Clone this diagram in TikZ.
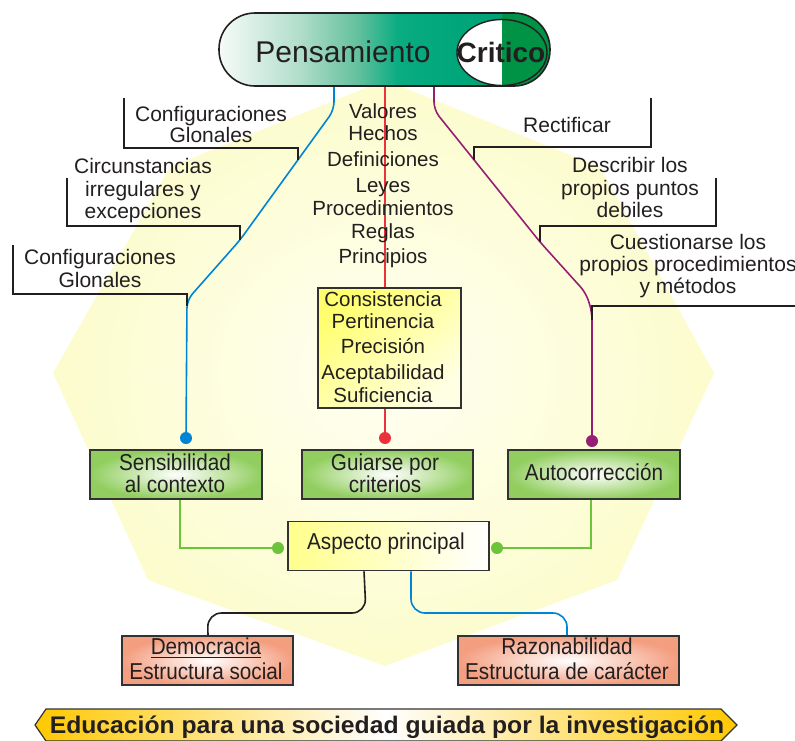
\documentclass[tikz,border=0pt]{standalone}
\usepackage{fontspec}
\usepackage{graphicx}
\setmainfont{Liberation Sans}
\newfontfamily\narrowfont[FakeStretch=0.9]{Liberation Sans}
\usetikzlibrary{calc}

\definecolor{ink}{RGB}{35,31,32}
\definecolor{frame}{RGB}{50,50,50}
\definecolor{bgouter}{RGB}{252,252,205}
\definecolor{bginner}{RGB}{255,255,242}
\definecolor{lineblue}{RGB}{0,132,212}
\definecolor{linered}{RGB}{235,50,60}
\definecolor{linepurple}{RGB}{150,30,115}
\definecolor{linegreen}{RGB}{110,195,60}
\definecolor{boxgreen}{RGB}{145,206,95}
\definecolor{boxsalmon}{RGB}{244,158,128}
\definecolor{critgreen}{RGB}{0,146,69}
\definecolor{gold}{RGB}{255,200,0}
\definecolor{crityellow}{RGB}{255,255,110}
\definecolor{critpale}{RGB}{255,255,228}
\definecolor{aspyellow}{RGB}{255,255,140}
\definecolor{pillA}{RGB}{246,251,248}
\definecolor{pillB}{RGB}{178,222,204}
\definecolor{pillC}{RGB}{98,192,157}
\definecolor{pillD}{RGB}{10,172,130}
\definecolor{pillE}{RGB}{0,166,122}
\definecolor{pillF}{RGB}{0,158,108}

% white-to-green band across the title capsule
\pgfdeclarehorizontalshading{pillshade}{100bp}{color(0bp)=(pillA); color(25bp)=(pillA); color(37bp)=(pillB); color(46bp)=(pillC); color(52bp)=(pillD); color(61bp)=(pillE); color(75bp)=(pillF); color(100bp)=(pillF)}

\tikzset{
  lbl/.style={font=\fontsize{21}{23}\selectfont, text=ink, inner sep=0pt, anchor=base},
  lst/.style={font=\fontsize{20.5}{22}\selectfont, text=ink, inner sep=0pt, anchor=base},
  boxtxt/.style={font=\narrowfont\fontsize{23}{25}\selectfont, text=ink, inner sep=0pt, anchor=base},
  bracket/.style={draw=ink, line width=1.6pt},
  wire/.style={line width=1.6pt},
  conn/.style={wire, rounded corners=8pt},
  dot/.style={circle, inner sep=0pt, minimum size=12pt},
  boxframe/.style={draw=frame, line width=1.6pt, inner sep=0pt, minimum height=49pt},
  greenbox/.style={boxframe, inner color=white, outer color=boxgreen},
  salmonbox/.style={boxframe, inner color=white, outer color=boxsalmon},
}

\begin{document}
\begin{tikzpicture}[x=1pt,y=-1pt]
\useasboundingbox (0,0) rectangle (795,740);

% pale yellow backdrop
\shade[inner color=bginner, outer color=bgouter]
  (385,80) -- (600,167) -- (714,373) -- (617,580) -- (385,666)
  -- (148,580) -- (53,373) -- (170,167) -- cycle;

% title capsule
\shade[shading=pillshade, rounded corners=36pt] (219,13) rectangle (550,86);
\begin{scope}
  \clip[rounded corners=36pt] (219,13) rectangle (550,86);
  \fill[critgreen] (502,0) rectangle (560,100);
\end{scope}
\begin{scope}
  \clip (502,52.5) ellipse [x radius=45pt, y radius=33pt];
  \fill[white] (440,0) rectangle (502,100);
\end{scope}
\draw[line width=1.4pt, ink] (502,52.5) ellipse [x radius=45pt, y radius=33pt];
\draw[line width=1.6pt, ink, rounded corners=36pt] (219,13) rectangle (550,86);
\node[font=\fontsize{30}{30}\selectfont, text=ink, inner sep=0pt, anchor=base] (pens) at (343,62) {Pensamiento};
\node[font=\bfseries\fontsize{28}{28}\selectfont, text=ink, inner sep=0pt, anchor=base] (critico) at (501,62) {Critico};

\coordinate (tapB) at (334,87);
\coordinate (tapR) at (385,87);
\coordinate (tapP) at (434,87);

% boxes
\node[boxframe, minimum width=143pt, minimum height=120pt, top color=crityellow, bottom color=critpale, shading angle=40] (crit) at (389.5,348) {};
\node[greenbox, minimum width=172pt] (sens) at (176,474.5) {};
\node[greenbox, minimum width=171pt] (guia) at (387.5,474.5) {};
\node[greenbox, minimum width=172pt] (auto) at (594,474.5) {};
\node[boxframe, minimum width=201pt, left color=aspyellow, right color=white] (asp) at (388.5,546) {};
\node[salmonbox, minimum width=171pt] (demo) at (207.5,660.5) {};
\node[salmonbox, minimum width=221pt] (razon) at (568.5,660.5) {};

% end markers
\node[dot, fill=lineblue] (dotB) at (186,438) {};
\node[dot, fill=linered] (dotR) at (385,438) {};
\node[dot, fill=linepurple] (dotP) at (592,441) {};
\node[dot, fill=linegreen] (dotGL) at (278,548) {};
\node[dot, fill=linegreen] (dotGR) at (497,548) {};

% connectors from the title
\draw[conn, lineblue] (tapB) -- (334,110) -- (240,240) -- (187,300) -- (dotB.center);
\draw[wire, linered] (tapR) -- (tapR |- crit.north);
\draw[wire, linered] (tapR |- crit.south) -- (dotR.center);
\draw[conn, linepurple] (tapP) -- (434,110) -- (540,242) -- (586,293) -- (592,312) -- (dotP.center);

% connectors into the main aspect
\draw[wire, linegreen] ($(sens.south)+(4,0)$) |- (dotGL.center);
\draw[wire, linegreen] ($(auto.south)+(-3,0)$) |- (dotGR.center);

% connectors to the two structures
\coordinate (joinL) at (366,613);
\coordinate (joinR) at (411,613);
\draw[wire, ink, rounded corners=14pt] ($(asp.south)+(-24.5,0)$) -- (joinL) -- (demo.north |- joinL) -- ($(demo.north)+(0.5,0)$);
\draw[wire, lineblue, rounded corners=14pt] ($(asp.south)+(22.5,0)$) -- (joinR) -- ($(razon.north |- joinR)+(-1.5,0)$) -- ($(razon.north)+(-1.5,0)$);

% label brackets, left
\draw[bracket] (124,98) -- (124,148) -- (298,148) -- (298,160);
\draw[bracket] (67,178) -- (67,226) -- (240,226) -- (240,240);
\draw[bracket] (13,245) -- (13,294) -- (187,294) -- (187,306);
% label brackets, right
\draw[bracket] (651,98) -- (651,147) -- (474,147) -- (474,160);
\draw[bracket] (716,178) -- (716,226) -- (540,226) -- (540,242);
\draw[bracket] (800,306) -- (592,306) -- (592,320);

% left labels
\node[lbl] (l1a) at (211,121) {Configuraciones};
\node[lbl] (l1b) at (211,142) {Glonales};
\node[lbl] (l2a) at (143,173) {Circunstancias};
\node[lbl] (l2b) at (143,196) {irregulares y};
\node[lbl] (l2c) at (143,218) {excepciones};
\node[lbl] (l3a) at (100,264) {Configuraciones};
\node[lbl] (l3b) at (100,287) {Glonales};

% right labels
\node[lbl] (r1a) at (567,132) {Rectificar};
\node[lbl] (r2a) at (630,172) {Describir los};
\node[lbl] (r2b) at (630,195) {propios puntos};
\node[lbl] (r2c) at (630,217) {debiles};
\node[lbl] (r3a) at (688,249) {Cuestionarse los};
\node[lbl] (r3b) at (688,271) {propios procedimientos};
\node[lbl] (r3c) at (688,293) {y métodos};

% central list
\node[lst] (c1) at (383,118) {Valores};
\node[lst] (c2) at (383,140) {Hechos};
\node[lst] (c3) at (383,166) {Definiciones};
\node[lst] (c4) at (383,192) {Leyes};
\node[lst] (c5) at (383,215) {Procedimientos};
\node[lst] (c6) at (383,238) {Reglas};
\node[lst] (c7) at (383,263) {Principios};

% criteria
\node[lst] (k1) at (383,306) {Consistencia};
\node[lst] (k2) at (383,328) {Pertinencia};
\node[lst] (k3) at (383,353) {Precisión};
\node[lst] (k4) at (383,379) {Aceptabilidad};
\node[lst] (k5) at (383,402) {Suficiencia};

% box texts
\node[boxtxt] (sensA) at (175,470) {Sensibilidad};
\node[boxtxt] (sensB) at (175,492) {al contexto};
\node[boxtxt] (guiaA) at (385,470) {Guiarse por};
\node[boxtxt] (guiaB) at (385,492) {criterios};
\node[boxtxt] (autoA) at (594,480) {Autocorrección};
\node[boxtxt] (aspA) at (386,549) {Aspecto principal};
\node[boxtxt] (demoA) at (206,654) {Democracia};
\draw[ink, line width=1.6pt] ($(demoA.base west)+(0,3.5)$) -- ($(demoA.base east)+(0,3.5)$);
\node[boxtxt] (demoB) at (206,679) {Estructura social};
\node[boxtxt] (razonA) at (567,654) {Razonabilidad};
\node[boxtxt] (razonB) at (567,679) {Estructura de carácter};

% motto banner
\shadedraw[draw=frame, line width=1.2pt, left color=gold, right color=gold, middle color=white]
  (35,725) -- (46,709) -- (721,709) -- (737,725) -- (721,741) -- (46,741) -- cycle;
\node[font=\bfseries\fontsize{24}{24}\selectfont, text=ink, inner sep=0pt, anchor=base] (motto) at (387,733)
  {\scalebox{1.03}[1]{Educación para una sociedad guiada por la investigación}};
\end{tikzpicture}
\end{document}
